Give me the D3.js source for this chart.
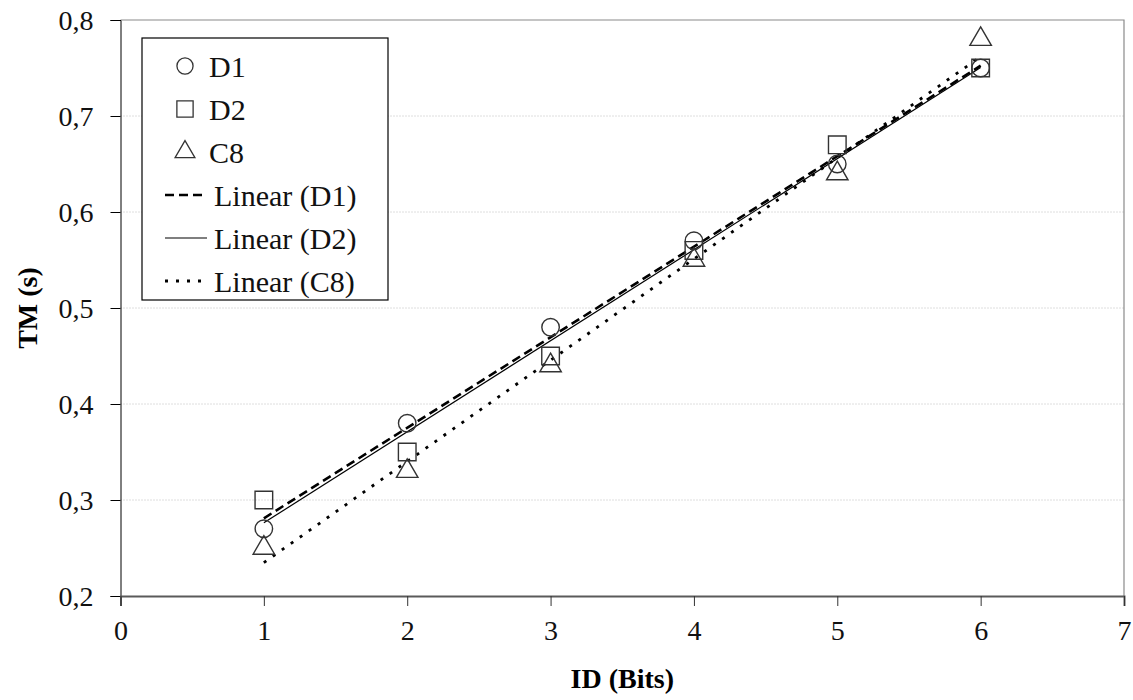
<!DOCTYPE html>
<html>
<head>
<meta charset="utf-8">
<script src="https://cdn.jsdelivr.net/npm/d3@7"></script>
<style>
  body { margin: 0; background: #fff; }
</style>
</head>
<body>
<script>
// data
var idBits = [1, 2, 3, 4, 5, 6];
var d1 = [0.27, 0.38, 0.48, 0.57, 0.65, 0.75];
var d2 = [0.30, 0.35, 0.45, 0.56, 0.67, 0.75];
var c8 = [0.25, 0.33, 0.44, 0.55, 0.64, 0.78];
var xTicks = [0, 1, 2, 3, 4, 5, 6, 7];
var yTicks = [0.2, 0.3, 0.4, 0.5, 0.6, 0.7, 0.8];

var serif = "Liberation Serif, DejaVu Serif, Noto Serif, Tinos, serif";

var margin = { top: 20, right: 9, bottom: 104, left: 120.5 },
    width = 1133 - margin.left - margin.right,
    height = 700 - margin.top - margin.bottom;

var svg = d3.select("body")
    .append("svg")
    .attr("width", 1133)
    .attr("height", 700)
    .append("g")
    .attr("transform", "translate(" + margin.left + "," + margin.top + ")");

var x = d3.scaleLinear().domain([0, 7]).range([0, width]);
var y = d3.scaleLinear().domain([0.2, 0.8]).range([height, 0]);

// gridlines (dotted)
svg.append("g")
    .selectAll("line")
    .data(yTicks.slice(1, -1))
    .enter().append("line")
    .attr("x1", 0).attr("x2", width)
    .attr("y1", function (d) { return y(d); })
    .attr("y2", function (d) { return y(d); })
    .style("stroke", "#bdbdbd")
    .style("stroke-width", 1)
    .style("stroke-dasharray", "1,2");

// plot area border on top and right
svg.append("path")
    .attr("d", "M0," + y(0.8) + "H" + x(7) + "V" + y(0.2))
    .style("fill", "none")
    .style("stroke", "#8a8a8a")
    .style("stroke-width", 1.2);

var fmt = function (d) { return d3.format(".1f")(d).replace(".", ","); };

// Y axis
var yAxis = svg.append("g")
    .call(d3.axisLeft(y).tickValues(yTicks).tickFormat(fmt).tickSizeOuter(0).tickSize(10).tickPadding(17));
yAxis.attr("font-family", null);
yAxis.select(".domain").style("stroke", "#000");
yAxis.selectAll("line").style("stroke", "#000");
yAxis.selectAll("text")
    .attr("font-family", serif)
    .style("font-size", "28px")
    .style("fill", "#111")
    .attr("dy", "0.35em");

// X axis
var xAxis = svg.append("g")
    .attr("transform", "translate(0," + height + ")")
    .call(d3.axisBottom(x).tickValues(xTicks).tickFormat(d3.format("d")).tickSizeOuter(0).tickSize(10).tickPadding(14));
xAxis.attr("font-family", null);
xAxis.select(".domain").style("stroke", "#5a5a5a").style("stroke-width", 2);
xAxis.selectAll("line").style("stroke", "#333");
xAxis.selectAll("text")
    .attr("font-family", serif)
    .style("font-size", "28px")
    .style("fill", "#111");

// axis titles
svg.append("text")
    .attr("x", width / 2)
    .attr("y", height + 92)
    .attr("text-anchor", "middle")
    .attr("font-family", serif)
    .style("font-size", "28px")
    .style("font-weight", "bold")
    .text("ID (Bits)");

svg.append("text")
    .attr("transform", "translate(" + (-margin.left + 37) + "," + (height / 2) + ") rotate(-90)")
    .attr("text-anchor", "middle")
    .attr("font-family", serif)
    .style("font-size", "28px")
    .style("font-weight", "bold")
    .text("TM (s)");

// linear fits
function fit(ys) {
    var mx = d3.mean(idBits), my = d3.mean(ys);
    var sxy = d3.sum(idBits, function (v, i) { return (v - mx) * (ys[i] - my); });
    var sxx = d3.sum(idBits, function (v) { return (v - mx) * (v - mx); });
    var b = sxy / sxx, a = my - b * mx;
    var x0 = d3.min(idBits), x1 = d3.max(idBits);
    return [[x0, a + b * x0], [x1, a + b * x1]];
}

var series = [
    { name: "D1", values: d1, shape: d3.symbolCircle, size: 240, dash: "9,5", lw: 2.6 },
    { name: "D2", values: d2, shape: d3.symbolSquare, size: 310, dash: null, lw: 1.2 },
    { name: "C8", values: c8, shape: d3.symbolTriangle, size: 200, dash: "3,8", lw: 2.8 }
];

var line = d3.line()
    .x(function (d) { return x(d[0]); })
    .y(function (d) { return y(d[1]); });

series.forEach(function (s) {
    svg.append("path")
        .datum(fit(s.values))
        .attr("d", line)
        .style("fill", "none")
        .style("stroke", "#000")
        .style("stroke-width", s.lw)
        .style("stroke-dasharray", s.dash);
});

// markers
series.forEach(function (s) {
    svg.append("g")
        .selectAll("path")
        .data(s.values)
        .enter().append("path")
        .attr("transform", function (d, i) { return "translate(" + x(idBits[i]) + "," + y(d) + ")"; })
        .attr("d", d3.symbol().type(s.shape).size(s.size))
        .style("fill", "none")
        .style("stroke", "#333")
        .style("stroke-width", 1.4);
});

// legend
var legend = svg.append("g")
    .attr("transform", "translate(" + (142 - margin.left) + "," + (38 - margin.top) + ")");

legend.append("rect")
    .attr("width", 246).attr("height", 262)
    .style("fill", "#fff")
    .style("stroke", "#000")
    .style("stroke-width", 1.2);

var rowH = 43;
series.forEach(function (s, i) {
    var cy = 28 + i * rowH;
    legend.append("path")
        .attr("transform", "translate(43," + cy + ")")
        .attr("d", d3.symbol().type(s.shape).size(s.size * 0.85))
        .style("fill", "none")
        .style("stroke", "#333")
        .style("stroke-width", 1.3);
    legend.append("text")
        .attr("x", 67).attr("y", cy)
        .attr("dy", "0.35em")
        .attr("font-family", serif)
        .style("font-size", "30px")
        .style("fill", "#111")
        .text(s.name);
});
series.forEach(function (s, i) {
    var cy = 28 + (i + 3) * rowH;
    legend.append("line")
        .attr("x1", 23).attr("x2", 65)
        .attr("y1", cy).attr("y2", cy)
        .style("stroke", "#000")
        .style("stroke-width", s.lw)
        .style("stroke-dasharray", s.dash);
    legend.append("text")
        .attr("x", 72).attr("y", cy)
        .attr("dy", "0.35em")
        .attr("font-family", serif)
        .style("font-size", "30px")
        .style("fill", "#111")
        .text("Linear (" + s.name + ")");
});
</script>
</body>
</html>
